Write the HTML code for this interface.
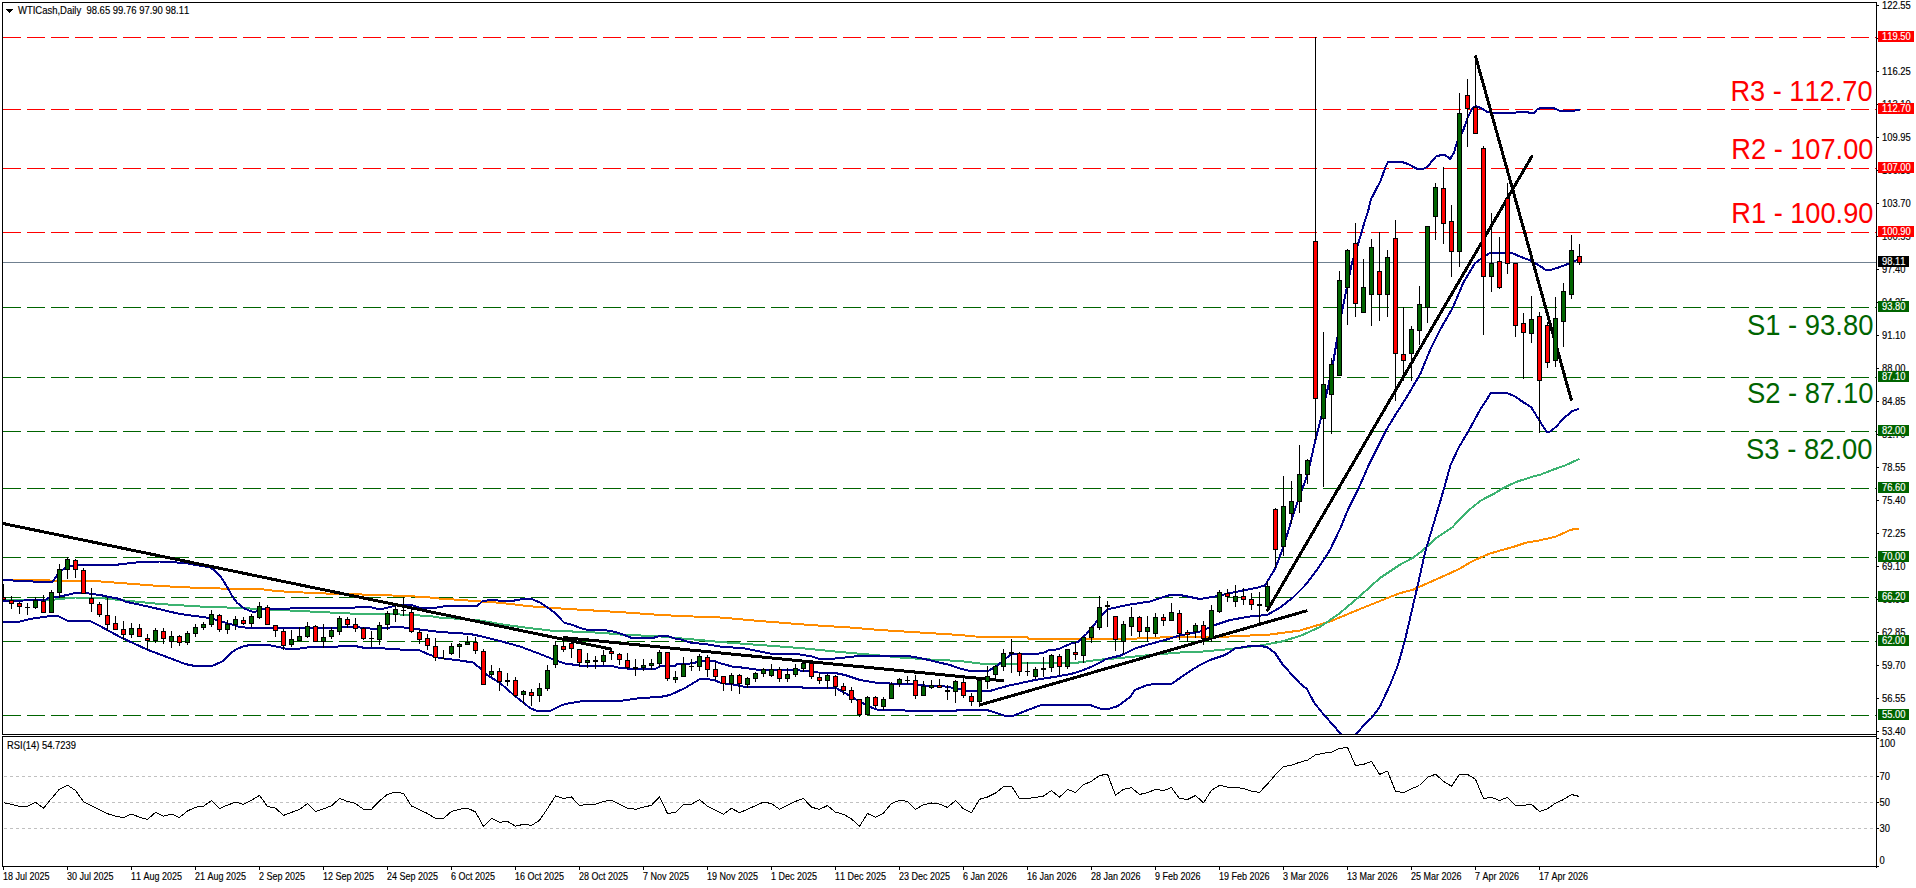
<!DOCTYPE html><html><head><meta charset="utf-8"><title>WTICash Daily</title>
<style>html,body{margin:0;padding:0;background:#fff;overflow:hidden}svg{display:block}text{font-family:"Liberation Sans",sans-serif;font-kerning:none}.s{font-size:10px;fill:#000;stroke:#000;stroke-width:.15px}.w{font-size:10px;fill:#fff;stroke:#fff;stroke-width:.15px}.b{font-size:28.6px}</style></head><body>
<svg width="1916" height="888" viewBox="0 0 1916 888">
<rect width="1916" height="888" fill="#fff"/>
<defs><clipPath id="cm"><rect x="3" y="3" width="1873" height="731"/></clipPath><clipPath id="cr"><rect x="3" y="737" width="1873" height="129"/></clipPath></defs>
<g clip-path="url(#cm)" shape-rendering="crispEdges">
<line x1="3" y1="37.5" x2="1876" y2="37.5" stroke="#ff0000" stroke-width="1" stroke-dasharray="18 6"/>
<line x1="3" y1="109.5" x2="1876" y2="109.5" stroke="#ff0000" stroke-width="1" stroke-dasharray="18 6"/>
<line x1="3" y1="168.5" x2="1876" y2="168.5" stroke="#ff0000" stroke-width="1" stroke-dasharray="18 6"/>
<line x1="3" y1="232.5" x2="1876" y2="232.5" stroke="#ff0000" stroke-width="1" stroke-dasharray="18 6"/>
<line x1="3" y1="307.5" x2="1876" y2="307.5" stroke="#006400" stroke-width="1" stroke-dasharray="18 6"/>
<line x1="3" y1="377.5" x2="1876" y2="377.5" stroke="#006400" stroke-width="1" stroke-dasharray="18 6"/>
<line x1="3" y1="431.5" x2="1876" y2="431.5" stroke="#006400" stroke-width="1" stroke-dasharray="18 6"/>
<line x1="3" y1="488.5" x2="1876" y2="488.5" stroke="#006400" stroke-width="1" stroke-dasharray="18 6"/>
<line x1="3" y1="557.5" x2="1876" y2="557.5" stroke="#006400" stroke-width="1" stroke-dasharray="18 6"/>
<line x1="3" y1="597.5" x2="1876" y2="597.5" stroke="#006400" stroke-width="1" stroke-dasharray="18 6"/>
<line x1="3" y1="641.5" x2="1876" y2="641.5" stroke="#006400" stroke-width="1" stroke-dasharray="18 6"/>
<line x1="3" y1="715.5" x2="1876" y2="715.5" stroke="#006400" stroke-width="1" stroke-dasharray="18 6"/>
<rect x="3" y="262" width="1873" height="1" fill="#708090"/>
<polyline points="3.0,580.0 50.0,580.5 95.0,581.0 120.0,583.0 160.0,586.0 200.0,588.0 240.0,589.0 260.0,589.0 276.3,591.0 291.4,592.0 315.2,593.0 332.7,593.8 350.3,594.2 380.4,595.0 411.7,596.3 428.0,597.3 440.0,598.6 458.8,599.8 477.6,601.3 500.0,602.8 530.0,606.3 565.0,608.8 596.6,610.7 628.0,612.6 659.0,614.9 680.0,616.0 720.0,617.5 760.0,621.0 810.0,625.0 850.0,627.5 880.0,630.0 920.0,632.5 960.0,635.0 975.0,636.5 1000.0,637.2 1027.0,637.2 1029.0,638.8 1130.0,638.8 1160.0,637.5 1200.0,636.8 1230.0,636.5 1270.0,634.5 1300.0,630.5 1330.0,621.5 1360.0,609.0 1390.0,597.0 1400.0,593.2 1413.5,589.5 1423.4,585.0 1445.0,575.5 1459.5,568.8 1468.5,563.4 1479.3,558.0 1490.0,553.5 1501.0,550.3 1515.3,546.3 1526.0,542.7 1538.7,540.5 1555.0,536.9 1571.0,529.7 1579.3,528.6" fill="none" stroke="#ff8c00" stroke-width="2" stroke-linejoin="round"/>
<polyline points="3.0,600.0 50.0,600.0 75.0,597.5 100.0,598.0 130.0,601.0 160.0,604.0 200.0,606.5 240.0,608.0 280.0,610.0 320.0,612.0 360.0,614.0 400.0,614.5 430.0,616.0 440.0,617.6 477.6,620.0 502.7,624.5 527.7,627.9 552.8,630.8 577.8,631.7 602.9,632.9 628.0,635.2 653.0,635.8 680.0,638.3 700.0,640.0 720.0,642.0 760.0,645.0 800.0,648.0 840.0,652.0 880.0,655.5 900.0,657.5 930.0,659.5 960.0,661.0 980.0,663.5 1020.0,663.5 1060.0,663.3 1075.0,663.0 1091.0,660.8 1101.0,659.6 1120.0,658.0 1150.0,655.0 1180.0,652.5 1200.0,651.8 1230.0,649.0 1260.0,645.5 1280.0,642.0 1300.0,636.0 1320.0,627.0 1340.0,613.0 1360.0,596.0 1380.0,578.0 1400.0,564.7 1412.6,558.0 1423.4,549.9 1436.0,538.2 1452.3,527.4 1463.0,515.7 1472.0,507.6 1481.0,500.4 1493.7,494.0 1502.7,488.3 1515.3,482.3 1529.7,477.5 1540.5,474.6 1553.0,469.7 1565.8,465.2 1579.3,458.9" fill="none" stroke="#3cb371" stroke-width="2" stroke-linejoin="round"/>
<polyline points="3.0,579.8 20.0,581.0 45.0,582.0 52.6,582.0 59.0,572.0 67.0,567.0 75.0,565.0 110.0,565.5 140.0,562.0 160.0,561.5 185.0,563.0 210.8,567.6 216.0,572.0 221.0,577.0 226.9,586.6 232.7,596.9 237.0,602.7 244.5,608.6 251.8,611.5 256.0,611.5 262.0,608.5 290.0,608.5 340.0,608.0 370.0,607.0 380.0,609.5 392.0,606.5 400.0,604.5 410.0,604.5 420.0,608.0 430.0,608.0 440.0,607.3 443.8,606.3 477.0,606.3 482.6,601.0 492.6,599.8 500.0,600.7 514.0,600.7 516.4,599.8 525.2,599.0 531.5,599.0 540.3,602.6 547.8,607.6 555.3,613.2 564.0,622.6 572.8,625.1 582.9,628.9 587.9,629.9 602.9,629.9 614.2,631.7 623.0,634.5 631.7,637.9 653.0,637.9 660.6,635.8 666.8,635.8 675.6,638.7 680.0,639.2 692.0,643.0 705.0,644.0 720.0,646.5 745.0,648.5 770.0,653.5 800.0,654.5 812.0,656.5 818.0,658.5 835.0,658.5 850.0,657.0 862.0,655.5 905.0,655.5 920.0,658.0 935.0,661.5 950.0,665.0 960.0,668.5 970.0,671.0 988.0,671.0 995.0,667.0 1003.0,661.0 1010.0,655.0 1012.0,654.3 1035.5,654.3 1045.6,652.2 1048.6,650.2 1058.8,649.2 1064.8,646.2 1071.0,643.6 1078.0,642.1 1081.0,638.6 1086.0,634.5 1095.2,623.4 1102.3,614.7 1107.4,609.2 1113.5,608.0 1120.0,606.6 1130.0,604.5 1150.0,601.5 1165.0,596.5 1172.0,594.5 1180.0,595.0 1200.0,599.0 1215.0,596.5 1240.0,591.0 1258.0,587.5 1265.0,585.3 1270.0,577.0 1275.0,569.0 1280.0,556.0 1284.0,545.5 1290.0,525.0 1296.0,506.5 1302.5,488.3 1307.8,474.0 1315.5,439.5 1321.0,418.5 1327.0,391.7 1332.0,369.6 1337.0,339.7 1341.7,313.0 1347.4,284.2 1352.0,263.2 1359.0,241.1 1363.7,224.9 1368.5,209.6 1370.8,199.6 1380.4,181.2 1386.0,165.9 1387.7,162.4 1392.0,161.7 1401.4,161.7 1409.0,164.4 1417.7,169.3 1422.5,169.3 1427.3,166.8 1436.0,156.5 1443.0,154.5 1446.4,155.9 1450.0,159.2 1454.0,152.5 1456.8,142.9 1463.5,129.5 1468.3,116.1 1473.0,107.5 1476.0,106.0 1481.7,108.5 1487.4,111.9 1493.0,113.3 1514.0,113.3 1518.0,111.9 1527.0,111.9 1530.5,113.3 1534.3,112.7 1537.0,109.4 1541.0,107.9 1546.7,107.5 1554.4,108.5 1560.0,110.8 1571.6,110.8 1580.2,110.0" fill="none" stroke="#00008b" stroke-width="2" stroke-linejoin="round"/>
<polyline points="3.0,601.0 45.0,600.0 47.6,598.5 55.0,597.3 67.6,594.9 76.4,592.5 81.4,592.5 88.9,593.5 100.0,595.0 107.7,596.6 119.0,598.8 125.0,601.5 150.0,607.0 180.0,614.0 210.0,618.0 240.0,627.0 250.0,628.0 330.0,628.5 345.0,626.5 360.0,627.5 375.0,629.0 390.0,627.5 400.0,627.0 420.0,629.5 440.0,632.0 470.0,634.0 480.0,636.0 500.0,641.0 520.0,646.5 540.0,654.0 555.0,660.0 565.0,663.5 580.0,665.5 610.0,665.5 620.0,667.9 626.0,668.0 628.0,669.0 655.0,669.0 657.0,668.0 660.7,666.0 675.0,666.0 676.5,664.4 695.0,663.2 697.0,661.4 716.0,661.4 717.7,662.5 726.5,665.0 732.7,666.6 740.0,667.3 760.0,670.0 800.0,670.5 812.0,671.0 818.0,672.5 835.0,673.0 845.0,675.0 860.0,680.0 875.0,682.5 890.0,683.5 910.0,684.0 930.0,686.0 945.0,686.5 960.0,689.0 968.0,691.0 990.0,691.0 1000.0,688.0 1008.0,685.8 1034.4,680.1 1056.7,676.5 1071.0,674.0 1081.0,671.0 1091.0,666.9 1101.3,661.9 1106.4,658.8 1120.0,655.7 1127.0,652.5 1135.0,648.5 1150.0,644.0 1165.0,640.0 1180.0,635.5 1200.0,631.5 1215.0,625.0 1230.0,620.0 1250.0,616.5 1267.0,615.0 1280.0,607.5 1293.0,597.5 1305.0,585.5 1318.0,568.5 1330.0,550.0 1340.0,529.0 1348.0,509.6 1358.6,488.3 1369.0,464.4 1386.2,430.0 1395.6,414.6 1406.5,397.4 1420.5,373.5 1430.0,350.2 1441.5,327.3 1453.0,307.2 1463.5,282.3 1475.0,263.2 1481.7,258.4 1490.3,252.6 1512.3,253.2 1520.0,256.5 1531.4,260.9 1540.0,266.0 1545.8,269.9 1550.6,269.9 1560.0,267.0 1569.7,263.2 1577.4,259.9 1580.0,259.0" fill="none" stroke="#00008b" stroke-width="2" stroke-linejoin="round"/>
<polyline points="3.0,622.0 18.0,622.0 30.0,619.0 50.0,616.0 58.0,616.0 68.0,621.0 90.0,621.0 100.0,626.0 120.0,637.0 148.0,650.0 175.0,660.0 185.0,664.0 195.0,666.0 212.0,666.0 222.5,661.3 231.3,652.5 237.0,648.8 244.5,645.9 252.0,644.9 266.0,644.9 273.7,645.9 285.0,648.5 300.0,648.5 310.0,647.0 335.0,647.0 345.0,645.5 355.0,646.0 365.0,648.0 385.0,648.5 400.0,649.5 420.0,650.5 430.0,655.0 440.0,658.0 460.0,660.5 473.0,662.5 480.0,668.0 487.0,675.0 500.0,683.0 515.0,696.0 530.0,708.0 537.0,711.0 550.0,711.0 560.0,706.0 565.0,704.0 580.0,701.5 620.0,701.0 640.0,698.0 660.0,697.0 670.0,695.0 685.0,688.0 700.0,679.0 707.0,679.0 715.0,680.5 721.0,683.0 735.0,684.7 745.0,687.0 800.0,687.0 805.0,688.0 818.0,688.0 825.0,687.5 835.0,687.5 845.0,693.0 857.0,700.0 870.0,707.0 878.0,710.0 905.0,710.5 908.0,711.0 955.0,711.0 960.0,709.5 985.0,709.5 1000.0,714.0 1005.0,716.0 1013.0,716.0 1025.0,711.0 1040.0,705.5 1070.0,705.0 1090.0,705.0 1100.0,708.5 1110.0,708.5 1118.0,706.0 1130.0,697.0 1135.0,690.0 1147.0,685.0 1160.0,683.5 1172.0,683.5 1180.0,678.0 1190.0,671.0 1200.0,665.0 1210.0,660.0 1225.0,655.0 1235.0,648.5 1250.0,646.0 1260.0,646.0 1267.0,647.0 1275.0,653.0 1283.0,665.0 1300.0,683.5 1307.0,689.0 1314.0,702.5 1322.0,712.5 1333.0,725.0 1340.0,733.0 1344.0,738.0 1352.0,738.0 1357.0,733.0 1365.0,724.0 1372.0,717.5 1380.0,706.5 1390.0,685.0 1398.0,665.0 1405.0,640.0 1412.0,610.0 1414.4,599.6 1418.0,584.0 1425.2,551.7 1436.0,515.7 1444.0,488.6 1450.5,465.2 1458.7,447.6 1468.3,431.3 1479.8,410.3 1490.9,393.0 1506.6,393.0 1514.2,396.0 1523.8,402.6 1531.4,407.4 1539.0,419.9 1546.7,431.9 1549.6,431.9 1556.3,426.6 1564.0,417.9 1572.6,410.9 1579.3,408.9" fill="none" stroke="#00008b" stroke-width="2" stroke-linejoin="round"/>
<line x1="3" y1="523.5" x2="612.3" y2="649.4" stroke="#000" stroke-width="3" stroke-linecap="butt"/>
<line x1="563" y1="637.5" x2="1004" y2="680.8" stroke="#000" stroke-width="3" stroke-linecap="butt"/>
<line x1="978.8" y1="705.3" x2="1307.5" y2="610.5" stroke="#000" stroke-width="3" stroke-linecap="butt"/>
<line x1="1267" y1="611.1" x2="1532.4" y2="155.4" stroke="#000" stroke-width="3" stroke-linecap="butt"/>
<line x1="1475.4" y1="55.8" x2="1571.6" y2="400.7" stroke="#000" stroke-width="3" stroke-linecap="butt"/>
<rect x="3" y="584" width="1" height="16" fill="#000"/>
<rect x="1" y="597" width="5" height="3" fill="#000"/>
<rect x="2" y="598" width="3" height="1" fill="#ff0000"/>
<rect x="11" y="596" width="1" height="13" fill="#000"/>
<rect x="9" y="600" width="5" height="4" fill="#000"/>
<rect x="10" y="601" width="3" height="2" fill="#ff0000"/>
<rect x="19" y="602" width="1" height="12" fill="#000"/>
<rect x="17" y="603" width="5" height="4" fill="#000"/>
<rect x="18" y="604" width="3" height="2" fill="#ff0000"/>
<rect x="27" y="603" width="1" height="12" fill="#000"/>
<rect x="25" y="607" width="5" height="1" fill="#000"/>
<rect x="35" y="597" width="1" height="12" fill="#000"/>
<rect x="33" y="600" width="5" height="8" fill="#000"/>
<rect x="34" y="601" width="3" height="6" fill="#006400"/>
<rect x="43" y="595" width="1" height="18" fill="#000"/>
<rect x="41" y="601" width="5" height="12" fill="#000"/>
<rect x="42" y="602" width="3" height="10" fill="#ff0000"/>
<rect x="51" y="590" width="1" height="23" fill="#000"/>
<rect x="49" y="592" width="5" height="21" fill="#000"/>
<rect x="50" y="593" width="3" height="19" fill="#006400"/>
<rect x="59" y="564" width="1" height="34" fill="#000"/>
<rect x="57" y="569" width="5" height="24" fill="#000"/>
<rect x="58" y="570" width="3" height="22" fill="#006400"/>
<rect x="67" y="557" width="1" height="22" fill="#000"/>
<rect x="65" y="559" width="5" height="11" fill="#000"/>
<rect x="66" y="560" width="3" height="9" fill="#006400"/>
<rect x="75" y="559" width="1" height="19" fill="#000"/>
<rect x="73" y="560" width="5" height="10" fill="#000"/>
<rect x="74" y="561" width="3" height="8" fill="#ff0000"/>
<rect x="83" y="568" width="1" height="26" fill="#000"/>
<rect x="81" y="570" width="5" height="24" fill="#000"/>
<rect x="82" y="571" width="3" height="22" fill="#ff0000"/>
<rect x="91" y="588" width="1" height="24" fill="#000"/>
<rect x="89" y="598" width="5" height="6" fill="#000"/>
<rect x="90" y="599" width="3" height="4" fill="#ff0000"/>
<rect x="99" y="602" width="1" height="15" fill="#000"/>
<rect x="97" y="604" width="5" height="11" fill="#000"/>
<rect x="98" y="605" width="3" height="9" fill="#ff0000"/>
<rect x="107" y="598" width="1" height="33" fill="#000"/>
<rect x="105" y="615" width="5" height="10" fill="#000"/>
<rect x="106" y="616" width="3" height="8" fill="#ff0000"/>
<rect x="115" y="616" width="1" height="14" fill="#000"/>
<rect x="113" y="623" width="5" height="7" fill="#000"/>
<rect x="114" y="624" width="3" height="5" fill="#ff0000"/>
<rect x="123" y="621" width="1" height="19" fill="#000"/>
<rect x="121" y="629" width="5" height="6" fill="#000"/>
<rect x="122" y="630" width="3" height="4" fill="#ff0000"/>
<rect x="131" y="623" width="1" height="15" fill="#000"/>
<rect x="129" y="628" width="5" height="7" fill="#000"/>
<rect x="130" y="629" width="3" height="5" fill="#006400"/>
<rect x="139" y="624" width="1" height="13" fill="#000"/>
<rect x="137" y="628" width="5" height="9" fill="#000"/>
<rect x="138" y="629" width="3" height="7" fill="#ff0000"/>
<rect x="147" y="634" width="1" height="16" fill="#000"/>
<rect x="145" y="638" width="5" height="3" fill="#000"/>
<rect x="146" y="639" width="3" height="1" fill="#ff0000"/>
<rect x="155" y="628" width="1" height="15" fill="#000"/>
<rect x="153" y="630" width="5" height="11" fill="#000"/>
<rect x="154" y="631" width="3" height="9" fill="#006400"/>
<rect x="163" y="628" width="1" height="16" fill="#000"/>
<rect x="161" y="631" width="5" height="8" fill="#000"/>
<rect x="162" y="632" width="3" height="6" fill="#ff0000"/>
<rect x="171" y="631" width="1" height="17" fill="#000"/>
<rect x="169" y="636" width="5" height="6" fill="#000"/>
<rect x="170" y="637" width="3" height="4" fill="#006400"/>
<rect x="179" y="635" width="1" height="11" fill="#000"/>
<rect x="177" y="636" width="5" height="7" fill="#000"/>
<rect x="178" y="637" width="3" height="5" fill="#ff0000"/>
<rect x="187" y="631" width="1" height="14" fill="#000"/>
<rect x="185" y="633" width="5" height="10" fill="#000"/>
<rect x="186" y="634" width="3" height="8" fill="#006400"/>
<rect x="195" y="624" width="1" height="13" fill="#000"/>
<rect x="193" y="627" width="5" height="7" fill="#000"/>
<rect x="194" y="628" width="3" height="5" fill="#006400"/>
<rect x="203" y="622" width="1" height="8" fill="#000"/>
<rect x="201" y="624" width="5" height="4" fill="#000"/>
<rect x="202" y="625" width="3" height="2" fill="#006400"/>
<rect x="211" y="610" width="1" height="17" fill="#000"/>
<rect x="209" y="614" width="5" height="11" fill="#000"/>
<rect x="210" y="615" width="3" height="9" fill="#006400"/>
<rect x="219" y="614" width="1" height="18" fill="#000"/>
<rect x="217" y="615" width="5" height="15" fill="#000"/>
<rect x="218" y="616" width="3" height="13" fill="#ff0000"/>
<rect x="227" y="620" width="1" height="14" fill="#000"/>
<rect x="225" y="624" width="5" height="6" fill="#000"/>
<rect x="226" y="625" width="3" height="4" fill="#006400"/>
<rect x="235" y="616" width="1" height="14" fill="#000"/>
<rect x="233" y="619" width="5" height="6" fill="#000"/>
<rect x="234" y="620" width="3" height="4" fill="#006400"/>
<rect x="243" y="617" width="1" height="8" fill="#000"/>
<rect x="241" y="620" width="5" height="4" fill="#000"/>
<rect x="242" y="621" width="3" height="2" fill="#ff0000"/>
<rect x="251" y="614" width="1" height="13" fill="#000"/>
<rect x="249" y="616" width="5" height="8" fill="#000"/>
<rect x="250" y="617" width="3" height="6" fill="#006400"/>
<rect x="259" y="602" width="1" height="17" fill="#000"/>
<rect x="257" y="606" width="5" height="12" fill="#000"/>
<rect x="258" y="607" width="3" height="10" fill="#006400"/>
<rect x="267" y="605" width="1" height="20" fill="#000"/>
<rect x="265" y="607" width="5" height="18" fill="#000"/>
<rect x="266" y="608" width="3" height="16" fill="#ff0000"/>
<rect x="275" y="625" width="1" height="12" fill="#000"/>
<rect x="273" y="625" width="5" height="6" fill="#000"/>
<rect x="274" y="626" width="3" height="4" fill="#ff0000"/>
<rect x="283" y="629" width="1" height="21" fill="#000"/>
<rect x="281" y="631" width="5" height="15" fill="#000"/>
<rect x="282" y="632" width="3" height="13" fill="#ff0000"/>
<rect x="291" y="630" width="1" height="17" fill="#000"/>
<rect x="289" y="639" width="5" height="6" fill="#000"/>
<rect x="290" y="640" width="3" height="4" fill="#006400"/>
<rect x="299" y="627" width="1" height="14" fill="#000"/>
<rect x="297" y="636" width="5" height="5" fill="#000"/>
<rect x="298" y="637" width="3" height="3" fill="#006400"/>
<rect x="307" y="622" width="1" height="16" fill="#000"/>
<rect x="305" y="626" width="5" height="11" fill="#000"/>
<rect x="306" y="627" width="3" height="9" fill="#006400"/>
<rect x="315" y="625" width="1" height="17" fill="#000"/>
<rect x="313" y="626" width="5" height="16" fill="#000"/>
<rect x="314" y="627" width="3" height="14" fill="#ff0000"/>
<rect x="323" y="624" width="1" height="24" fill="#000"/>
<rect x="321" y="637" width="5" height="5" fill="#000"/>
<rect x="322" y="638" width="3" height="3" fill="#006400"/>
<rect x="331" y="627" width="1" height="12" fill="#000"/>
<rect x="329" y="630" width="5" height="7" fill="#000"/>
<rect x="330" y="631" width="3" height="5" fill="#006400"/>
<rect x="339" y="616" width="1" height="19" fill="#000"/>
<rect x="337" y="618" width="5" height="14" fill="#000"/>
<rect x="338" y="619" width="3" height="12" fill="#006400"/>
<rect x="347" y="617" width="1" height="11" fill="#000"/>
<rect x="345" y="619" width="5" height="6" fill="#000"/>
<rect x="346" y="620" width="3" height="4" fill="#ff0000"/>
<rect x="355" y="618" width="1" height="14" fill="#000"/>
<rect x="353" y="624" width="5" height="5" fill="#000"/>
<rect x="354" y="625" width="3" height="3" fill="#ff0000"/>
<rect x="363" y="627" width="1" height="13" fill="#000"/>
<rect x="361" y="628" width="5" height="11" fill="#000"/>
<rect x="362" y="629" width="3" height="9" fill="#ff0000"/>
<rect x="371" y="631" width="1" height="16" fill="#000"/>
<rect x="369" y="638" width="5" height="1" fill="#000"/>
<rect x="379" y="622" width="1" height="23" fill="#000"/>
<rect x="377" y="625" width="5" height="15" fill="#000"/>
<rect x="378" y="626" width="3" height="13" fill="#006400"/>
<rect x="387" y="611" width="1" height="19" fill="#000"/>
<rect x="385" y="613" width="5" height="12" fill="#000"/>
<rect x="386" y="614" width="3" height="10" fill="#006400"/>
<rect x="395" y="606" width="1" height="16" fill="#000"/>
<rect x="393" y="609" width="5" height="6" fill="#000"/>
<rect x="394" y="610" width="3" height="4" fill="#006400"/>
<rect x="403" y="597" width="1" height="19" fill="#000"/>
<rect x="401" y="610" width="5" height="1" fill="#000"/>
<rect x="411" y="609" width="1" height="24" fill="#000"/>
<rect x="409" y="612" width="5" height="20" fill="#000"/>
<rect x="410" y="613" width="3" height="18" fill="#ff0000"/>
<rect x="419" y="630" width="1" height="14" fill="#000"/>
<rect x="417" y="632" width="5" height="8" fill="#000"/>
<rect x="418" y="633" width="3" height="6" fill="#ff0000"/>
<rect x="427" y="634" width="1" height="16" fill="#000"/>
<rect x="425" y="638" width="5" height="8" fill="#000"/>
<rect x="426" y="639" width="3" height="6" fill="#ff0000"/>
<rect x="435" y="638" width="1" height="23" fill="#000"/>
<rect x="433" y="646" width="5" height="12" fill="#000"/>
<rect x="434" y="647" width="3" height="10" fill="#ff0000"/>
<rect x="443" y="650" width="1" height="9" fill="#000"/>
<rect x="441" y="658" width="5" height="1" fill="#000"/>
<rect x="451" y="643" width="1" height="12" fill="#000"/>
<rect x="449" y="646" width="5" height="8" fill="#000"/>
<rect x="450" y="647" width="3" height="6" fill="#006400"/>
<rect x="459" y="643" width="1" height="15" fill="#000"/>
<rect x="457" y="644" width="5" height="3" fill="#000"/>
<rect x="458" y="645" width="3" height="1" fill="#006400"/>
<rect x="467" y="636" width="1" height="9" fill="#000"/>
<rect x="465" y="642" width="5" height="3" fill="#000"/>
<rect x="466" y="643" width="3" height="1" fill="#006400"/>
<rect x="475" y="637" width="1" height="17" fill="#000"/>
<rect x="473" y="642" width="5" height="9" fill="#000"/>
<rect x="474" y="643" width="3" height="7" fill="#ff0000"/>
<rect x="483" y="649" width="1" height="36" fill="#000"/>
<rect x="481" y="651" width="5" height="34" fill="#000"/>
<rect x="482" y="652" width="3" height="32" fill="#ff0000"/>
<rect x="491" y="665" width="1" height="12" fill="#000"/>
<rect x="489" y="671" width="5" height="4" fill="#000"/>
<rect x="490" y="672" width="3" height="2" fill="#006400"/>
<rect x="499" y="668" width="1" height="23" fill="#000"/>
<rect x="497" y="671" width="5" height="11" fill="#000"/>
<rect x="498" y="672" width="3" height="9" fill="#ff0000"/>
<rect x="507" y="673" width="1" height="13" fill="#000"/>
<rect x="505" y="680" width="5" height="2" fill="#000"/>
<rect x="515" y="677" width="1" height="20" fill="#000"/>
<rect x="513" y="680" width="5" height="16" fill="#000"/>
<rect x="514" y="681" width="3" height="14" fill="#ff0000"/>
<rect x="523" y="690" width="1" height="14" fill="#000"/>
<rect x="521" y="691" width="5" height="4" fill="#000"/>
<rect x="522" y="692" width="3" height="2" fill="#006400"/>
<rect x="531" y="689" width="1" height="17" fill="#000"/>
<rect x="529" y="692" width="5" height="4" fill="#000"/>
<rect x="530" y="693" width="3" height="2" fill="#ff0000"/>
<rect x="539" y="683" width="1" height="19" fill="#000"/>
<rect x="537" y="688" width="5" height="8" fill="#000"/>
<rect x="538" y="689" width="3" height="6" fill="#006400"/>
<rect x="547" y="665" width="1" height="26" fill="#000"/>
<rect x="545" y="670" width="5" height="19" fill="#000"/>
<rect x="546" y="671" width="3" height="17" fill="#006400"/>
<rect x="555" y="641" width="1" height="27" fill="#000"/>
<rect x="553" y="645" width="5" height="20" fill="#000"/>
<rect x="554" y="646" width="3" height="18" fill="#006400"/>
<rect x="563" y="638" width="1" height="14" fill="#000"/>
<rect x="561" y="646" width="5" height="4" fill="#000"/>
<rect x="562" y="647" width="3" height="2" fill="#ff0000"/>
<rect x="571" y="640" width="1" height="18" fill="#000"/>
<rect x="569" y="643" width="5" height="6" fill="#000"/>
<rect x="570" y="644" width="3" height="4" fill="#ff0000"/>
<rect x="579" y="649" width="1" height="18" fill="#000"/>
<rect x="577" y="649" width="5" height="14" fill="#000"/>
<rect x="578" y="650" width="3" height="12" fill="#ff0000"/>
<rect x="587" y="653" width="1" height="15" fill="#000"/>
<rect x="585" y="660" width="5" height="3" fill="#000"/>
<rect x="586" y="661" width="3" height="1" fill="#006400"/>
<rect x="595" y="656" width="1" height="13" fill="#000"/>
<rect x="593" y="660" width="5" height="2" fill="#000"/>
<rect x="603" y="650" width="1" height="15" fill="#000"/>
<rect x="601" y="655" width="5" height="7" fill="#000"/>
<rect x="602" y="656" width="3" height="5" fill="#006400"/>
<rect x="611" y="649" width="1" height="11" fill="#000"/>
<rect x="609" y="651" width="5" height="3" fill="#000"/>
<rect x="610" y="652" width="3" height="1" fill="#ff0000"/>
<rect x="619" y="653" width="1" height="12" fill="#000"/>
<rect x="617" y="654" width="5" height="6" fill="#000"/>
<rect x="618" y="655" width="3" height="4" fill="#ff0000"/>
<rect x="627" y="653" width="1" height="16" fill="#000"/>
<rect x="625" y="660" width="5" height="8" fill="#000"/>
<rect x="626" y="661" width="3" height="6" fill="#ff0000"/>
<rect x="635" y="659" width="1" height="17" fill="#000"/>
<rect x="633" y="667" width="5" height="2" fill="#000"/>
<rect x="643" y="659" width="1" height="12" fill="#000"/>
<rect x="641" y="665" width="5" height="3" fill="#000"/>
<rect x="642" y="666" width="3" height="1" fill="#006400"/>
<rect x="651" y="659" width="1" height="11" fill="#000"/>
<rect x="649" y="663" width="5" height="3" fill="#000"/>
<rect x="650" y="664" width="3" height="1" fill="#006400"/>
<rect x="659" y="650" width="1" height="17" fill="#000"/>
<rect x="657" y="652" width="5" height="12" fill="#000"/>
<rect x="658" y="653" width="3" height="10" fill="#006400"/>
<rect x="667" y="652" width="1" height="29" fill="#000"/>
<rect x="665" y="652" width="5" height="27" fill="#000"/>
<rect x="666" y="653" width="3" height="25" fill="#ff0000"/>
<rect x="675" y="671" width="1" height="12" fill="#000"/>
<rect x="673" y="677" width="5" height="3" fill="#000"/>
<rect x="674" y="678" width="3" height="1" fill="#006400"/>
<rect x="683" y="657" width="1" height="20" fill="#000"/>
<rect x="681" y="664" width="5" height="13" fill="#000"/>
<rect x="682" y="665" width="3" height="11" fill="#006400"/>
<rect x="691" y="659" width="1" height="12" fill="#000"/>
<rect x="689" y="666" width="5" height="1" fill="#000"/>
<rect x="699" y="654" width="1" height="17" fill="#000"/>
<rect x="697" y="656" width="5" height="11" fill="#000"/>
<rect x="698" y="657" width="3" height="9" fill="#006400"/>
<rect x="707" y="655" width="1" height="22" fill="#000"/>
<rect x="705" y="657" width="5" height="13" fill="#000"/>
<rect x="706" y="658" width="3" height="11" fill="#ff0000"/>
<rect x="715" y="662" width="1" height="18" fill="#000"/>
<rect x="713" y="669" width="5" height="8" fill="#000"/>
<rect x="714" y="670" width="3" height="6" fill="#ff0000"/>
<rect x="723" y="676" width="1" height="15" fill="#000"/>
<rect x="721" y="676" width="5" height="8" fill="#000"/>
<rect x="722" y="677" width="3" height="6" fill="#ff0000"/>
<rect x="731" y="673" width="1" height="18" fill="#000"/>
<rect x="729" y="675" width="5" height="9" fill="#000"/>
<rect x="730" y="676" width="3" height="7" fill="#006400"/>
<rect x="739" y="674" width="1" height="20" fill="#000"/>
<rect x="737" y="675" width="5" height="9" fill="#000"/>
<rect x="738" y="676" width="3" height="7" fill="#ff0000"/>
<rect x="747" y="677" width="1" height="11" fill="#000"/>
<rect x="745" y="678" width="5" height="7" fill="#000"/>
<rect x="746" y="679" width="3" height="5" fill="#006400"/>
<rect x="755" y="672" width="1" height="10" fill="#000"/>
<rect x="753" y="673" width="5" height="6" fill="#000"/>
<rect x="754" y="674" width="3" height="4" fill="#006400"/>
<rect x="763" y="668" width="1" height="9" fill="#000"/>
<rect x="761" y="669" width="5" height="5" fill="#000"/>
<rect x="762" y="670" width="3" height="3" fill="#006400"/>
<rect x="771" y="664" width="1" height="13" fill="#000"/>
<rect x="769" y="669" width="5" height="7" fill="#000"/>
<rect x="770" y="670" width="3" height="5" fill="#006400"/>
<rect x="779" y="667" width="1" height="15" fill="#000"/>
<rect x="777" y="669" width="5" height="10" fill="#000"/>
<rect x="778" y="670" width="3" height="8" fill="#ff0000"/>
<rect x="787" y="668" width="1" height="14" fill="#000"/>
<rect x="785" y="674" width="5" height="5" fill="#000"/>
<rect x="786" y="675" width="3" height="3" fill="#006400"/>
<rect x="795" y="664" width="1" height="13" fill="#000"/>
<rect x="793" y="668" width="5" height="7" fill="#000"/>
<rect x="794" y="669" width="3" height="5" fill="#006400"/>
<rect x="803" y="662" width="1" height="10" fill="#000"/>
<rect x="801" y="663" width="5" height="6" fill="#000"/>
<rect x="802" y="664" width="3" height="4" fill="#006400"/>
<rect x="811" y="662" width="1" height="17" fill="#000"/>
<rect x="809" y="663" width="5" height="14" fill="#000"/>
<rect x="810" y="664" width="3" height="12" fill="#ff0000"/>
<rect x="819" y="673" width="1" height="11" fill="#000"/>
<rect x="817" y="677" width="5" height="4" fill="#000"/>
<rect x="818" y="678" width="3" height="2" fill="#ff0000"/>
<rect x="827" y="674" width="1" height="15" fill="#000"/>
<rect x="825" y="675" width="5" height="6" fill="#000"/>
<rect x="826" y="676" width="3" height="4" fill="#006400"/>
<rect x="835" y="675" width="1" height="21" fill="#000"/>
<rect x="833" y="676" width="5" height="11" fill="#000"/>
<rect x="834" y="677" width="3" height="9" fill="#ff0000"/>
<rect x="843" y="683" width="1" height="12" fill="#000"/>
<rect x="841" y="686" width="5" height="5" fill="#000"/>
<rect x="842" y="687" width="3" height="3" fill="#ff0000"/>
<rect x="851" y="687" width="1" height="16" fill="#000"/>
<rect x="849" y="690" width="5" height="10" fill="#000"/>
<rect x="850" y="691" width="3" height="8" fill="#ff0000"/>
<rect x="859" y="699" width="1" height="18" fill="#000"/>
<rect x="857" y="699" width="5" height="16" fill="#000"/>
<rect x="858" y="700" width="3" height="14" fill="#ff0000"/>
<rect x="867" y="696" width="1" height="19" fill="#000"/>
<rect x="865" y="697" width="5" height="18" fill="#000"/>
<rect x="866" y="698" width="3" height="16" fill="#006400"/>
<rect x="875" y="696" width="1" height="12" fill="#000"/>
<rect x="873" y="697" width="5" height="9" fill="#000"/>
<rect x="874" y="698" width="3" height="7" fill="#ff0000"/>
<rect x="883" y="697" width="1" height="13" fill="#000"/>
<rect x="881" y="699" width="5" height="8" fill="#000"/>
<rect x="882" y="700" width="3" height="6" fill="#006400"/>
<rect x="891" y="682" width="1" height="16" fill="#000"/>
<rect x="889" y="684" width="5" height="15" fill="#000"/>
<rect x="890" y="685" width="3" height="13" fill="#006400"/>
<rect x="899" y="678" width="1" height="9" fill="#000"/>
<rect x="897" y="679" width="5" height="5" fill="#000"/>
<rect x="898" y="680" width="3" height="3" fill="#006400"/>
<rect x="907" y="676" width="1" height="8" fill="#000"/>
<rect x="905" y="680" width="5" height="1" fill="#000"/>
<rect x="915" y="675" width="1" height="24" fill="#000"/>
<rect x="913" y="680" width="5" height="16" fill="#000"/>
<rect x="914" y="681" width="3" height="14" fill="#ff0000"/>
<rect x="923" y="681" width="1" height="14" fill="#000"/>
<rect x="921" y="686" width="5" height="10" fill="#000"/>
<rect x="922" y="687" width="3" height="8" fill="#006400"/>
<rect x="931" y="680" width="1" height="9" fill="#000"/>
<rect x="929" y="685" width="5" height="3" fill="#000"/>
<rect x="930" y="686" width="3" height="1" fill="#006400"/>
<rect x="939" y="679" width="1" height="9" fill="#000"/>
<rect x="937" y="685" width="5" height="3" fill="#000"/>
<rect x="938" y="686" width="3" height="1" fill="#ff0000"/>
<rect x="947" y="685" width="1" height="15" fill="#000"/>
<rect x="945" y="690" width="5" height="2" fill="#000"/>
<rect x="955" y="680" width="1" height="23" fill="#000"/>
<rect x="953" y="681" width="5" height="11" fill="#000"/>
<rect x="954" y="682" width="3" height="9" fill="#006400"/>
<rect x="963" y="678" width="1" height="20" fill="#000"/>
<rect x="961" y="682" width="5" height="14" fill="#000"/>
<rect x="962" y="683" width="3" height="12" fill="#ff0000"/>
<rect x="971" y="693" width="1" height="13" fill="#000"/>
<rect x="969" y="696" width="5" height="6" fill="#000"/>
<rect x="970" y="697" width="3" height="4" fill="#ff0000"/>
<rect x="979" y="678" width="1" height="28" fill="#000"/>
<rect x="977" y="680" width="5" height="22" fill="#000"/>
<rect x="978" y="681" width="3" height="20" fill="#006400"/>
<rect x="987" y="666" width="1" height="23" fill="#000"/>
<rect x="985" y="676" width="5" height="6" fill="#000"/>
<rect x="986" y="677" width="3" height="4" fill="#006400"/>
<rect x="995" y="665" width="1" height="13" fill="#000"/>
<rect x="993" y="666" width="5" height="9" fill="#000"/>
<rect x="994" y="667" width="3" height="7" fill="#006400"/>
<rect x="1003" y="649" width="1" height="22" fill="#000"/>
<rect x="1001" y="653" width="5" height="14" fill="#000"/>
<rect x="1002" y="654" width="3" height="12" fill="#006400"/>
<rect x="1011" y="639" width="1" height="34" fill="#000"/>
<rect x="1009" y="652" width="5" height="2" fill="#000"/>
<rect x="1019" y="652" width="1" height="24" fill="#000"/>
<rect x="1017" y="653" width="5" height="19" fill="#000"/>
<rect x="1018" y="654" width="3" height="17" fill="#ff0000"/>
<rect x="1027" y="662" width="1" height="14" fill="#000"/>
<rect x="1025" y="671" width="5" height="1" fill="#000"/>
<rect x="1035" y="667" width="1" height="12" fill="#000"/>
<rect x="1033" y="669" width="5" height="8" fill="#000"/>
<rect x="1034" y="670" width="3" height="6" fill="#006400"/>
<rect x="1043" y="657" width="1" height="20" fill="#000"/>
<rect x="1041" y="668" width="5" height="2" fill="#000"/>
<rect x="1051" y="654" width="1" height="18" fill="#000"/>
<rect x="1049" y="655" width="5" height="13" fill="#000"/>
<rect x="1050" y="656" width="3" height="11" fill="#006400"/>
<rect x="1059" y="654" width="1" height="21" fill="#000"/>
<rect x="1057" y="656" width="5" height="11" fill="#000"/>
<rect x="1058" y="657" width="3" height="9" fill="#ff0000"/>
<rect x="1067" y="649" width="1" height="20" fill="#000"/>
<rect x="1065" y="649" width="5" height="18" fill="#000"/>
<rect x="1066" y="650" width="3" height="16" fill="#006400"/>
<rect x="1075" y="642" width="1" height="18" fill="#000"/>
<rect x="1073" y="652" width="5" height="3" fill="#000"/>
<rect x="1074" y="653" width="3" height="1" fill="#ff0000"/>
<rect x="1083" y="637" width="1" height="26" fill="#000"/>
<rect x="1081" y="637" width="5" height="19" fill="#000"/>
<rect x="1082" y="638" width="3" height="17" fill="#006400"/>
<rect x="1091" y="626" width="1" height="17" fill="#000"/>
<rect x="1089" y="627" width="5" height="11" fill="#000"/>
<rect x="1090" y="628" width="3" height="9" fill="#006400"/>
<rect x="1099" y="596" width="1" height="34" fill="#000"/>
<rect x="1097" y="607" width="5" height="21" fill="#000"/>
<rect x="1098" y="608" width="3" height="19" fill="#006400"/>
<rect x="1107" y="601" width="1" height="26" fill="#000"/>
<rect x="1105" y="605" width="5" height="2" fill="#000"/>
<rect x="1115" y="616" width="1" height="35" fill="#000"/>
<rect x="1113" y="616" width="5" height="24" fill="#000"/>
<rect x="1114" y="617" width="3" height="22" fill="#ff0000"/>
<rect x="1123" y="621" width="1" height="33" fill="#000"/>
<rect x="1121" y="624" width="5" height="18" fill="#000"/>
<rect x="1122" y="625" width="3" height="16" fill="#006400"/>
<rect x="1131" y="607" width="1" height="29" fill="#000"/>
<rect x="1129" y="617" width="5" height="10" fill="#000"/>
<rect x="1130" y="618" width="3" height="8" fill="#006400"/>
<rect x="1139" y="616" width="1" height="21" fill="#000"/>
<rect x="1137" y="617" width="5" height="15" fill="#000"/>
<rect x="1138" y="618" width="3" height="13" fill="#ff0000"/>
<rect x="1147" y="616" width="1" height="26" fill="#000"/>
<rect x="1145" y="627" width="5" height="5" fill="#000"/>
<rect x="1146" y="628" width="3" height="3" fill="#006400"/>
<rect x="1155" y="613" width="1" height="24" fill="#000"/>
<rect x="1153" y="617" width="5" height="17" fill="#000"/>
<rect x="1154" y="618" width="3" height="15" fill="#006400"/>
<rect x="1163" y="614" width="1" height="12" fill="#000"/>
<rect x="1161" y="617" width="5" height="4" fill="#000"/>
<rect x="1162" y="618" width="3" height="2" fill="#ff0000"/>
<rect x="1171" y="603" width="1" height="18" fill="#000"/>
<rect x="1169" y="612" width="5" height="9" fill="#000"/>
<rect x="1170" y="613" width="3" height="7" fill="#006400"/>
<rect x="1179" y="610" width="1" height="30" fill="#000"/>
<rect x="1177" y="613" width="5" height="21" fill="#000"/>
<rect x="1178" y="614" width="3" height="19" fill="#ff0000"/>
<rect x="1187" y="630" width="1" height="12" fill="#000"/>
<rect x="1185" y="632" width="5" height="3" fill="#000"/>
<rect x="1186" y="633" width="3" height="1" fill="#ff0000"/>
<rect x="1195" y="623" width="1" height="15" fill="#000"/>
<rect x="1193" y="625" width="5" height="7" fill="#000"/>
<rect x="1194" y="626" width="3" height="5" fill="#006400"/>
<rect x="1203" y="621" width="1" height="24" fill="#000"/>
<rect x="1201" y="625" width="5" height="14" fill="#000"/>
<rect x="1202" y="626" width="3" height="12" fill="#ff0000"/>
<rect x="1211" y="605" width="1" height="37" fill="#000"/>
<rect x="1209" y="610" width="5" height="29" fill="#000"/>
<rect x="1210" y="611" width="3" height="27" fill="#006400"/>
<rect x="1219" y="590" width="1" height="23" fill="#000"/>
<rect x="1217" y="592" width="5" height="20" fill="#000"/>
<rect x="1218" y="593" width="3" height="18" fill="#006400"/>
<rect x="1227" y="589" width="1" height="13" fill="#000"/>
<rect x="1225" y="593" width="5" height="4" fill="#000"/>
<rect x="1226" y="594" width="3" height="2" fill="#ff0000"/>
<rect x="1235" y="585" width="1" height="22" fill="#000"/>
<rect x="1233" y="596" width="5" height="6" fill="#000"/>
<rect x="1234" y="597" width="3" height="4" fill="#006400"/>
<rect x="1243" y="588" width="1" height="17" fill="#000"/>
<rect x="1241" y="596" width="5" height="4" fill="#000"/>
<rect x="1242" y="597" width="3" height="2" fill="#ff0000"/>
<rect x="1251" y="593" width="1" height="17" fill="#000"/>
<rect x="1249" y="599" width="5" height="6" fill="#000"/>
<rect x="1250" y="600" width="3" height="4" fill="#ff0000"/>
<rect x="1259" y="592" width="1" height="31" fill="#000"/>
<rect x="1257" y="604" width="5" height="2" fill="#000"/>
<rect x="1267" y="581" width="1" height="31" fill="#000"/>
<rect x="1265" y="586" width="5" height="21" fill="#000"/>
<rect x="1266" y="587" width="3" height="19" fill="#006400"/>
<rect x="1275" y="508" width="1" height="60" fill="#000"/>
<rect x="1273" y="509" width="5" height="41" fill="#000"/>
<rect x="1274" y="510" width="3" height="39" fill="#ff0000"/>
<rect x="1283" y="476" width="1" height="80" fill="#000"/>
<rect x="1281" y="506" width="5" height="41" fill="#000"/>
<rect x="1282" y="507" width="3" height="39" fill="#006400"/>
<rect x="1291" y="481" width="1" height="43" fill="#000"/>
<rect x="1289" y="501" width="5" height="13" fill="#000"/>
<rect x="1290" y="502" width="3" height="11" fill="#006400"/>
<rect x="1299" y="445" width="1" height="68" fill="#000"/>
<rect x="1297" y="474" width="5" height="28" fill="#000"/>
<rect x="1298" y="475" width="3" height="26" fill="#006400"/>
<rect x="1307" y="459" width="1" height="25" fill="#000"/>
<rect x="1305" y="460" width="5" height="15" fill="#000"/>
<rect x="1306" y="461" width="3" height="13" fill="#006400"/>
<rect x="1315" y="37" width="1" height="403" fill="#000"/>
<rect x="1313" y="241" width="5" height="158" fill="#000"/>
<rect x="1314" y="242" width="3" height="156" fill="#ff0000"/>
<rect x="1323" y="332" width="1" height="155" fill="#000"/>
<rect x="1321" y="384" width="5" height="35" fill="#000"/>
<rect x="1322" y="385" width="3" height="33" fill="#006400"/>
<rect x="1331" y="358" width="1" height="76" fill="#000"/>
<rect x="1329" y="364" width="5" height="31" fill="#000"/>
<rect x="1330" y="365" width="3" height="29" fill="#006400"/>
<rect x="1339" y="271" width="1" height="105" fill="#000"/>
<rect x="1337" y="280" width="5" height="96" fill="#000"/>
<rect x="1338" y="281" width="3" height="94" fill="#006400"/>
<rect x="1347" y="249" width="1" height="76" fill="#000"/>
<rect x="1345" y="250" width="5" height="38" fill="#000"/>
<rect x="1346" y="251" width="3" height="36" fill="#006400"/>
<rect x="1355" y="223" width="1" height="94" fill="#000"/>
<rect x="1353" y="243" width="5" height="61" fill="#000"/>
<rect x="1354" y="244" width="3" height="59" fill="#ff0000"/>
<rect x="1363" y="259" width="1" height="54" fill="#000"/>
<rect x="1361" y="287" width="5" height="26" fill="#000"/>
<rect x="1362" y="288" width="3" height="24" fill="#006400"/>
<rect x="1371" y="239" width="1" height="87" fill="#000"/>
<rect x="1369" y="247" width="5" height="48" fill="#000"/>
<rect x="1370" y="248" width="3" height="46" fill="#006400"/>
<rect x="1379" y="232" width="1" height="89" fill="#000"/>
<rect x="1377" y="271" width="5" height="24" fill="#000"/>
<rect x="1378" y="272" width="3" height="22" fill="#ff0000"/>
<rect x="1387" y="250" width="1" height="67" fill="#000"/>
<rect x="1385" y="257" width="5" height="38" fill="#000"/>
<rect x="1386" y="258" width="3" height="36" fill="#006400"/>
<rect x="1395" y="220" width="1" height="181" fill="#000"/>
<rect x="1393" y="238" width="5" height="116" fill="#000"/>
<rect x="1394" y="239" width="3" height="114" fill="#ff0000"/>
<rect x="1403" y="307" width="1" height="74" fill="#000"/>
<rect x="1401" y="354" width="5" height="7" fill="#000"/>
<rect x="1402" y="355" width="3" height="5" fill="#ff0000"/>
<rect x="1411" y="326" width="1" height="55" fill="#000"/>
<rect x="1409" y="329" width="5" height="25" fill="#000"/>
<rect x="1410" y="330" width="3" height="23" fill="#006400"/>
<rect x="1419" y="286" width="1" height="59" fill="#000"/>
<rect x="1417" y="304" width="5" height="27" fill="#000"/>
<rect x="1418" y="305" width="3" height="25" fill="#006400"/>
<rect x="1427" y="226" width="1" height="97" fill="#000"/>
<rect x="1425" y="226" width="5" height="82" fill="#000"/>
<rect x="1426" y="227" width="3" height="80" fill="#006400"/>
<rect x="1435" y="183" width="1" height="57" fill="#000"/>
<rect x="1433" y="187" width="5" height="30" fill="#000"/>
<rect x="1434" y="188" width="3" height="28" fill="#006400"/>
<rect x="1443" y="167" width="1" height="77" fill="#000"/>
<rect x="1441" y="188" width="5" height="36" fill="#000"/>
<rect x="1442" y="189" width="3" height="34" fill="#ff0000"/>
<rect x="1451" y="205" width="1" height="72" fill="#000"/>
<rect x="1449" y="221" width="5" height="31" fill="#000"/>
<rect x="1450" y="222" width="3" height="29" fill="#ff0000"/>
<rect x="1459" y="93" width="1" height="174" fill="#000"/>
<rect x="1457" y="113" width="5" height="139" fill="#000"/>
<rect x="1458" y="114" width="3" height="137" fill="#006400"/>
<rect x="1467" y="79" width="1" height="68" fill="#000"/>
<rect x="1465" y="95" width="5" height="14" fill="#000"/>
<rect x="1466" y="96" width="3" height="12" fill="#ff0000"/>
<rect x="1475" y="55" width="1" height="79" fill="#000"/>
<rect x="1473" y="107" width="5" height="27" fill="#000"/>
<rect x="1474" y="108" width="3" height="25" fill="#ff0000"/>
<rect x="1483" y="146" width="1" height="189" fill="#000"/>
<rect x="1481" y="148" width="5" height="129" fill="#000"/>
<rect x="1482" y="149" width="3" height="127" fill="#ff0000"/>
<rect x="1491" y="213" width="1" height="79" fill="#000"/>
<rect x="1489" y="263" width="5" height="14" fill="#000"/>
<rect x="1490" y="264" width="3" height="12" fill="#006400"/>
<rect x="1499" y="237" width="1" height="52" fill="#000"/>
<rect x="1497" y="261" width="5" height="27" fill="#000"/>
<rect x="1498" y="262" width="3" height="25" fill="#ff0000"/>
<rect x="1507" y="183" width="1" height="91" fill="#000"/>
<rect x="1505" y="198" width="5" height="66" fill="#000"/>
<rect x="1506" y="199" width="3" height="64" fill="#ff0000"/>
<rect x="1515" y="263" width="1" height="74" fill="#000"/>
<rect x="1513" y="263" width="5" height="63" fill="#000"/>
<rect x="1514" y="264" width="3" height="61" fill="#ff0000"/>
<rect x="1523" y="313" width="1" height="66" fill="#000"/>
<rect x="1521" y="323" width="5" height="10" fill="#000"/>
<rect x="1522" y="324" width="3" height="8" fill="#ff0000"/>
<rect x="1531" y="296" width="1" height="47" fill="#000"/>
<rect x="1529" y="319" width="5" height="15" fill="#000"/>
<rect x="1530" y="320" width="3" height="13" fill="#006400"/>
<rect x="1539" y="312" width="1" height="121" fill="#000"/>
<rect x="1537" y="316" width="5" height="65" fill="#000"/>
<rect x="1538" y="317" width="3" height="63" fill="#ff0000"/>
<rect x="1547" y="322" width="1" height="46" fill="#000"/>
<rect x="1545" y="325" width="5" height="38" fill="#000"/>
<rect x="1546" y="326" width="3" height="36" fill="#ff0000"/>
<rect x="1555" y="297" width="1" height="70" fill="#000"/>
<rect x="1553" y="318" width="5" height="43" fill="#000"/>
<rect x="1554" y="319" width="3" height="41" fill="#006400"/>
<rect x="1563" y="283" width="1" height="64" fill="#000"/>
<rect x="1561" y="291" width="5" height="31" fill="#000"/>
<rect x="1562" y="292" width="3" height="29" fill="#006400"/>
<rect x="1571" y="235" width="1" height="64" fill="#000"/>
<rect x="1569" y="250" width="5" height="45" fill="#000"/>
<rect x="1570" y="251" width="3" height="43" fill="#006400"/>
<rect x="1579" y="244" width="1" height="21" fill="#000"/>
<rect x="1577" y="256" width="5" height="7" fill="#000"/>
<rect x="1578" y="257" width="3" height="5" fill="#ff0000"/>
</g>
<g clip-path="url(#cr)" shape-rendering="crispEdges">
<line x1="4" y1="776.5" x2="1876" y2="776.5" stroke="#c0c0c0" stroke-width="1" stroke-dasharray="3 3"/>
<line x1="4" y1="802.5" x2="1876" y2="802.5" stroke="#c0c0c0" stroke-width="1" stroke-dasharray="3 3"/>
<line x1="4" y1="828.5" x2="1876" y2="828.5" stroke="#c0c0c0" stroke-width="1" stroke-dasharray="3 3"/>
<polyline points="3.5,802.6 11.5,804.3 19.5,806.4 27.5,806.4 35.5,802.2 43.5,808.3 51.5,798.5 59.5,789.1 67.5,785.1 75.5,790.5 83.5,801.6 91.5,805.8 99.5,809.9 107.5,813.7 115.5,816.2 123.5,817.5 131.5,814.1 139.5,817.2 147.5,819.5 155.5,812.4 163.5,816.2 171.5,814.1 179.5,817.5 187.5,811.0 195.5,807.2 203.5,806.2 211.5,800.5 219.5,808.5 227.5,805.1 235.5,802.2 243.5,804.3 251.5,800.1 259.5,795.5 267.5,806.4 275.5,808.1 283.5,815.4 291.5,812.4 299.5,809.5 307.5,803.5 315.5,811.4 323.5,808.9 331.5,805.8 339.5,798.5 347.5,801.4 355.5,803.5 363.5,809.3 371.5,809.3 379.5,801.0 387.5,794.3 395.5,792.2 403.5,793.4 411.5,806.0 419.5,809.7 427.5,813.5 435.5,818.5 443.5,818.5 451.5,811.4 459.5,809.3 467.5,808.1 475.5,812.0 483.5,826.4 491.5,818.3 499.5,822.3 507.5,821.4 515.5,826.2 523.5,824.3 531.5,825.4 539.5,820.4 547.5,808.5 555.5,796.0 563.5,798.5 571.5,797.0 579.5,805.6 587.5,804.3 595.5,804.3 603.5,801.4 611.5,800.1 619.5,804.1 627.5,808.1 635.5,809.3 643.5,807.2 651.5,805.3 659.5,797.0 667.5,813.5 675.5,812.4 683.5,804.5 691.5,804.3 699.5,799.5 707.5,806.2 715.5,810.1 723.5,814.3 731.5,808.3 739.5,812.7 747.5,809.3 755.5,805.6 763.5,802.2 771.5,803.5 779.5,809.3 787.5,805.1 795.5,801.4 803.5,798.5 811.5,807.2 819.5,809.3 827.5,805.6 835.5,812.2 843.5,814.3 851.5,818.9 859.5,826.4 867.5,813.5 875.5,817.2 883.5,813.1 891.5,803.5 899.5,800.3 907.5,801.4 915.5,809.3 923.5,804.7 931.5,803.0 939.5,804.1 947.5,807.4 955.5,800.5 963.5,808.9 971.5,812.7 979.5,799.3 987.5,797.0 995.5,793.0 1003.5,786.8 1011.5,786.3 1019.5,798.5 1027.5,798.5 1035.5,797.4 1043.5,796.0 1051.5,790.5 1059.5,797.2 1067.5,789.3 1075.5,792.6 1083.5,784.7 1091.5,781.3 1099.5,775.5 1107.5,774.2 1115.5,795.3 1123.5,789.3 1131.5,787.6 1139.5,794.5 1147.5,792.6 1155.5,789.5 1163.5,790.5 1171.5,787.6 1179.5,798.5 1187.5,799.5 1195.5,795.5 1203.5,802.8 1211.5,790.3 1219.5,785.3 1227.5,787.1 1235.5,787.1 1243.5,788.6 1251.5,791.3 1259.5,792.4 1267.5,784.0 1275.5,774.6 1283.5,766.7 1291.5,765.2 1299.5,762.3 1307.5,760.2 1315.5,754.8 1323.5,753.3 1331.5,752.1 1339.5,748.5 1347.5,747.3 1355.5,765.6 1363.5,764.4 1371.5,761.3 1379.5,774.4 1387.5,771.1 1395.5,791.3 1403.5,792.6 1411.5,788.6 1419.5,785.5 1427.5,777.3 1435.5,774.2 1443.5,781.3 1451.5,786.3 1459.5,774.4 1467.5,774.4 1475.5,779.2 1483.5,798.4 1491.5,797.4 1499.5,800.5 1507.5,797.4 1515.5,805.3 1523.5,805.3 1531.5,804.3 1539.5,811.6 1547.5,808.7 1555.5,803.2 1563.5,799.5 1571.5,794.5 1579.5,796.5" fill="none" stroke="#000" stroke-width="1"/>
</g>
<g shape-rendering="crispEdges" fill="#000">
<rect x="2" y="2" width="1875" height="1"/>
<rect x="2" y="2" width="1" height="733"/>
<rect x="2" y="734" width="1875" height="1"/>
<rect x="1876" y="2" width="1" height="866"/>
<rect x="2" y="736" width="1875" height="1"/>
<rect x="2" y="736" width="1" height="131"/>
<rect x="2" y="866" width="1875" height="1"/>
<rect x="1877" y="5" width="2" height="1"/>
<rect x="1877" y="38" width="2" height="1"/>
<rect x="1877" y="71" width="2" height="1"/>
<rect x="1877" y="104" width="2" height="1"/>
<rect x="1877" y="137" width="2" height="1"/>
<rect x="1877" y="170" width="2" height="1"/>
<rect x="1877" y="203" width="2" height="1"/>
<rect x="1877" y="236" width="2" height="1"/>
<rect x="1877" y="269" width="2" height="1"/>
<rect x="1877" y="302" width="2" height="1"/>
<rect x="1877" y="335" width="2" height="1"/>
<rect x="1877" y="368" width="2" height="1"/>
<rect x="1877" y="401" width="2" height="1"/>
<rect x="1877" y="434" width="2" height="1"/>
<rect x="1877" y="467" width="2" height="1"/>
<rect x="1877" y="500" width="2" height="1"/>
<rect x="1877" y="533" width="2" height="1"/>
<rect x="1877" y="566" width="2" height="1"/>
<rect x="1877" y="599" width="2" height="1"/>
<rect x="1877" y="632" width="2" height="1"/>
<rect x="1877" y="665" width="2" height="1"/>
<rect x="1877" y="698" width="2" height="1"/>
<rect x="1877" y="731" width="2" height="1"/>
<rect x="1877" y="738" width="2" height="1"/>
<rect x="1877" y="776" width="2" height="1"/>
<rect x="1877" y="802" width="2" height="1"/>
<rect x="1877" y="828" width="2" height="1"/>
<rect x="1877" y="866" width="2" height="1"/>
<rect x="3" y="867" width="1" height="3"/>
<rect x="67" y="867" width="1" height="3"/>
<rect x="131" y="867" width="1" height="3"/>
<rect x="195" y="867" width="1" height="3"/>
<rect x="259" y="867" width="1" height="3"/>
<rect x="323" y="867" width="1" height="3"/>
<rect x="387" y="867" width="1" height="3"/>
<rect x="451" y="867" width="1" height="3"/>
<rect x="515" y="867" width="1" height="3"/>
<rect x="579" y="867" width="1" height="3"/>
<rect x="643" y="867" width="1" height="3"/>
<rect x="707" y="867" width="1" height="3"/>
<rect x="771" y="867" width="1" height="3"/>
<rect x="835" y="867" width="1" height="3"/>
<rect x="899" y="867" width="1" height="3"/>
<rect x="963" y="867" width="1" height="3"/>
<rect x="1027" y="867" width="1" height="3"/>
<rect x="1091" y="867" width="1" height="3"/>
<rect x="1155" y="867" width="1" height="3"/>
<rect x="1219" y="867" width="1" height="3"/>
<rect x="1283" y="867" width="1" height="3"/>
<rect x="1347" y="867" width="1" height="3"/>
<rect x="1411" y="867" width="1" height="3"/>
<rect x="1475" y="867" width="1" height="3"/>
<rect x="1539" y="867" width="1" height="3"/>
<rect x="6" y="9" width="7" height="1"/>
<rect x="7" y="10" width="5" height="1"/>
<rect x="8" y="11" width="3" height="1"/>
<rect x="9" y="12" width="1" height="1"/>
</g>
<text class="s" transform="translate(1882,9) scale(0.94,1)" xml:space="preserve">122.55</text>
<text class="s" transform="translate(1882,42) scale(0.94,1)" xml:space="preserve">119.40</text>
<text class="s" transform="translate(1882,75) scale(0.94,1)" xml:space="preserve">116.25</text>
<text class="s" transform="translate(1882,108) scale(0.94,1)" xml:space="preserve">113.10</text>
<text class="s" transform="translate(1882,141) scale(0.94,1)" xml:space="preserve">109.95</text>
<text class="s" transform="translate(1882,174) scale(0.94,1)" xml:space="preserve">106.85</text>
<text class="s" transform="translate(1882,207) scale(0.94,1)" xml:space="preserve">103.70</text>
<text class="s" transform="translate(1882,240) scale(0.94,1)" xml:space="preserve">100.55</text>
<text class="s" transform="translate(1882,273) scale(0.94,1)" xml:space="preserve">97.40</text>
<text class="s" transform="translate(1882,306) scale(0.94,1)" xml:space="preserve">94.25</text>
<text class="s" transform="translate(1882,339) scale(0.94,1)" xml:space="preserve">91.10</text>
<text class="s" transform="translate(1882,372) scale(0.94,1)" xml:space="preserve">88.00</text>
<text class="s" transform="translate(1882,405) scale(0.94,1)" xml:space="preserve">84.85</text>
<text class="s" transform="translate(1882,438) scale(0.94,1)" xml:space="preserve">81.70</text>
<text class="s" transform="translate(1882,471) scale(0.94,1)" xml:space="preserve">78.55</text>
<text class="s" transform="translate(1882,504) scale(0.94,1)" xml:space="preserve">75.40</text>
<text class="s" transform="translate(1882,537) scale(0.94,1)" xml:space="preserve">72.25</text>
<text class="s" transform="translate(1882,570) scale(0.94,1)" xml:space="preserve">69.10</text>
<text class="s" transform="translate(1882,603) scale(0.94,1)" xml:space="preserve">65.95</text>
<text class="s" transform="translate(1882,636) scale(0.94,1)" xml:space="preserve">62.85</text>
<text class="s" transform="translate(1882,669) scale(0.94,1)" xml:space="preserve">59.70</text>
<text class="s" transform="translate(1882,702) scale(0.94,1)" xml:space="preserve">56.55</text>
<text class="s" transform="translate(1882,735) scale(0.94,1)" xml:space="preserve">53.40</text>
<text class="s" transform="translate(1879.5,747) scale(0.94,1)" xml:space="preserve">100</text>
<text class="s" transform="translate(1879.5,780) scale(0.94,1)" xml:space="preserve">70</text>
<text class="s" transform="translate(1879.5,806) scale(0.94,1)" xml:space="preserve">50</text>
<text class="s" transform="translate(1879.5,832) scale(0.94,1)" xml:space="preserve">30</text>
<text class="s" transform="translate(1879.5,864) scale(0.94,1)" xml:space="preserve">0</text>
<rect x="1878" y="31" width="36" height="11" fill="#ff0000" shape-rendering="crispEdges"/>
<text class="w" transform="translate(1882,40) scale(0.94,1)" xml:space="preserve">119.50</text>
<rect x="1878" y="103" width="36" height="11" fill="#ff0000" shape-rendering="crispEdges"/>
<text class="w" transform="translate(1882,112) scale(0.94,1)" xml:space="preserve">112.70</text>
<rect x="1878" y="162" width="36" height="11" fill="#ff0000" shape-rendering="crispEdges"/>
<text class="w" transform="translate(1882,171) scale(0.94,1)" xml:space="preserve">107.00</text>
<rect x="1878" y="226" width="36" height="11" fill="#ff0000" shape-rendering="crispEdges"/>
<text class="w" transform="translate(1882,235) scale(0.94,1)" xml:space="preserve">100.90</text>
<rect x="1878" y="301" width="31" height="11" fill="#006400" shape-rendering="crispEdges"/>
<text class="w" transform="translate(1882,310) scale(0.94,1)" xml:space="preserve">93.80</text>
<rect x="1878" y="371" width="31" height="11" fill="#006400" shape-rendering="crispEdges"/>
<text class="w" transform="translate(1882,380) scale(0.94,1)" xml:space="preserve">87.10</text>
<rect x="1878" y="425" width="31" height="11" fill="#006400" shape-rendering="crispEdges"/>
<text class="w" transform="translate(1882,434) scale(0.94,1)" xml:space="preserve">82.00</text>
<rect x="1878" y="482" width="31" height="11" fill="#006400" shape-rendering="crispEdges"/>
<text class="w" transform="translate(1882,491) scale(0.94,1)" xml:space="preserve">76.60</text>
<rect x="1878" y="551" width="31" height="11" fill="#006400" shape-rendering="crispEdges"/>
<text class="w" transform="translate(1882,560) scale(0.94,1)" xml:space="preserve">70.00</text>
<rect x="1878" y="591" width="31" height="11" fill="#006400" shape-rendering="crispEdges"/>
<text class="w" transform="translate(1882,600) scale(0.94,1)" xml:space="preserve">66.20</text>
<rect x="1878" y="635" width="31" height="11" fill="#006400" shape-rendering="crispEdges"/>
<text class="w" transform="translate(1882,644) scale(0.94,1)" xml:space="preserve">62.00</text>
<rect x="1878" y="709" width="31" height="11" fill="#006400" shape-rendering="crispEdges"/>
<text class="w" transform="translate(1882,718) scale(0.94,1)" xml:space="preserve">55.00</text>
<rect x="1878" y="256" width="31" height="11" fill="#000" shape-rendering="crispEdges"/>
<text class="w" transform="translate(1882,265) scale(0.94,1)" xml:space="preserve">98.11</text>
<text class="s" transform="translate(3,880) scale(0.9,1)" xml:space="preserve">18 Jul 2025</text>
<text class="s" transform="translate(67,880) scale(0.9,1)" xml:space="preserve">30 Jul 2025</text>
<text class="s" transform="translate(131,880) scale(0.9,1)" xml:space="preserve">11 Aug 2025</text>
<text class="s" transform="translate(195,880) scale(0.9,1)" xml:space="preserve">21 Aug 2025</text>
<text class="s" transform="translate(259,880) scale(0.9,1)" xml:space="preserve">2 Sep 2025</text>
<text class="s" transform="translate(323,880) scale(0.9,1)" xml:space="preserve">12 Sep 2025</text>
<text class="s" transform="translate(387,880) scale(0.9,1)" xml:space="preserve">24 Sep 2025</text>
<text class="s" transform="translate(451,880) scale(0.9,1)" xml:space="preserve">6 Oct 2025</text>
<text class="s" transform="translate(515,880) scale(0.9,1)" xml:space="preserve">16 Oct 2025</text>
<text class="s" transform="translate(579,880) scale(0.9,1)" xml:space="preserve">28 Oct 2025</text>
<text class="s" transform="translate(643,880) scale(0.9,1)" xml:space="preserve">7 Nov 2025</text>
<text class="s" transform="translate(707,880) scale(0.9,1)" xml:space="preserve">19 Nov 2025</text>
<text class="s" transform="translate(771,880) scale(0.9,1)" xml:space="preserve">1 Dec 2025</text>
<text class="s" transform="translate(835,880) scale(0.9,1)" xml:space="preserve">11 Dec 2025</text>
<text class="s" transform="translate(899,880) scale(0.9,1)" xml:space="preserve">23 Dec 2025</text>
<text class="s" transform="translate(963,880) scale(0.9,1)" xml:space="preserve">6 Jan 2026</text>
<text class="s" transform="translate(1027,880) scale(0.9,1)" xml:space="preserve">16 Jan 2026</text>
<text class="s" transform="translate(1091,880) scale(0.9,1)" xml:space="preserve">28 Jan 2026</text>
<text class="s" transform="translate(1155,880) scale(0.9,1)" xml:space="preserve">9 Feb 2026</text>
<text class="s" transform="translate(1219,880) scale(0.9,1)" xml:space="preserve">19 Feb 2026</text>
<text class="s" transform="translate(1283,880) scale(0.9,1)" xml:space="preserve">3 Mar 2026</text>
<text class="s" transform="translate(1347,880) scale(0.9,1)" xml:space="preserve">13 Mar 2026</text>
<text class="s" transform="translate(1411,880) scale(0.9,1)" xml:space="preserve">25 Mar 2026</text>
<text class="s" transform="translate(1475,880) scale(0.9,1)" xml:space="preserve">7 Apr 2026</text>
<text class="s" transform="translate(1539,880) scale(0.9,1)" xml:space="preserve">17 Apr 2026</text>
<text class="s" transform="translate(18,14) scale(0.949,1)" xml:space="preserve">WTICash,Daily  98.65 99.76 97.90 98.11</text>
<text class="s" transform="translate(7,749) scale(0.94,1)" xml:space="preserve">RSI(14) 54.7239</text>
<text class="b" transform="translate(1872.5,100.7) scale(0.9510,1)" text-anchor="end" fill="#ff0000">R3 - 112.70</text>
<text class="b" transform="translate(1873.4,159.4) scale(0.9510,1)" text-anchor="end" fill="#ff0000">R2 - 107.00</text>
<text class="b" transform="translate(1873.4,223.2) scale(0.9510,1)" text-anchor="end" fill="#ff0000">R1 - 100.90</text>
<text class="b" transform="translate(1873.4,334.8) scale(0.9580,1)" text-anchor="end" fill="#006400">S1 - 93.80</text>
<text class="b" transform="translate(1873.4,402.8) scale(0.9580,1)" text-anchor="end" fill="#006400">S2 - 87.10</text>
<text class="b" transform="translate(1872.5,458.7) scale(0.9580,1)" text-anchor="end" fill="#006400">S3 - 82.00</text>
</svg></body></html>
